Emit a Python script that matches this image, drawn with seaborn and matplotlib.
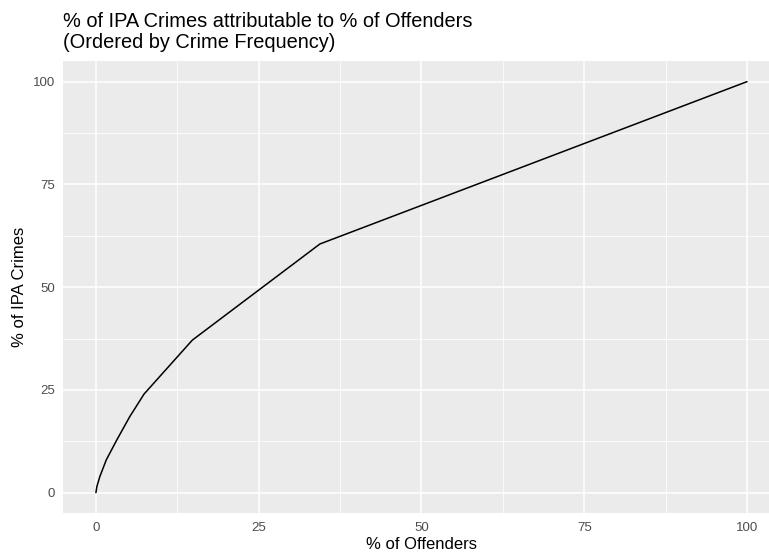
import matplotlib
matplotlib.use("Agg")
import matplotlib.pyplot as plt
import seaborn as sns
import pandas as pd
from matplotlib.ticker import MultipleLocator

# Cumulative share of offenders vs. cumulative share of IPA crimes
pct_offenders = [0, 0.15, 0.6, 1.6, 3.2, 5.2, 7.4, 14.8, 34.4, 100]
pct_crimes = [0, 1.5, 3.9, 8.0, 12.8, 18.5, 24.0, 37.1, 60.5, 100]

df = pd.DataFrame({"offenders": pct_offenders, "crimes": pct_crimes})

sns.set_theme(style="darkgrid", rc={
    "axes.facecolor": "#EBEBEB",
    "grid.color": "white",
    "axes.edgecolor": "#EBEBEB",
})
plt.rcParams["font.family"] = ["Liberation Sans", "DejaVu Sans"]

fig = plt.figure(figsize=(7.69, 5.53), dpi=100)
ax = fig.add_axes([0.0824, 0.072, 0.9313, 0.8175])

sns.lineplot(data=df, x="offenders", y="crimes", ax=ax, color="black",
             linewidth=1.1, sort=False)

ax.set_xlim(-5, 105)
ax.set_ylim(-5, 105)
ax.xaxis.set_major_locator(MultipleLocator(25))
ax.yaxis.set_major_locator(MultipleLocator(25))
ax.xaxis.set_minor_locator(MultipleLocator(12.5))
ax.yaxis.set_minor_locator(MultipleLocator(12.5))
ax.grid(which="major", color="white", linewidth=1.1)
ax.grid(which="minor", color="white", linewidth=0.55)
for s in ax.spines.values():
    s.set_visible(False)

ax.tick_params(axis="both", which="major", length=3.7, width=0.9,
               color="#333333", labelcolor="#4D4D4D", labelsize=9.5, pad=2.5)
ax.tick_params(axis="both", which="minor", length=0)

ax.set_xlabel("% of Offenders", fontsize=12.0, color="black", labelpad=2)
ax.set_ylabel("% of IPA Crimes", fontsize=12.0, color="black", labelpad=4)

title_lines = ["% of IPA Crimes attributable to % of Offenders",
               "(Ordered by Crime Frequency)"]
for i, line in enumerate(title_lines):
    fig.text(0.0824, 1 - (26.7 + 21.0 * i) / 553, line,
             fontsize=14.4, color="black", ha="left", va="baseline")

fig.savefig("out.png", dpi=100)
